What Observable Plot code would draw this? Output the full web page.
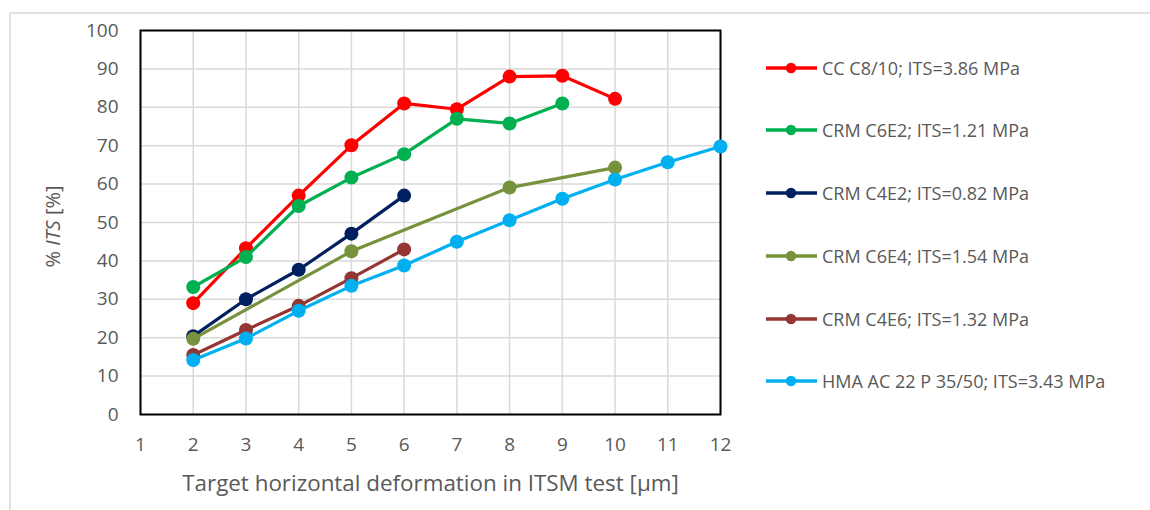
<!DOCTYPE html>
<html><head><meta charset="utf-8">
<script src="https://cdn.jsdelivr.net/npm/d3@7"></script>
<script src="https://cdn.jsdelivr.net/npm/@observablehq/plot@0.6"></script>
<style>
body{margin:0;background:#fff;font-family:"Open Sans",sans-serif;}
#wrap{position:relative;width:1150px;height:510px;overflow:hidden;background:#fff}
#frame{position:absolute;left:9px;top:12px;width:1200px;height:600px;border-top:2px solid #e2e2e2;border-left:2px solid #e2e2e2}
#chart{position:absolute;left:0;top:0}
#legend{position:absolute;left:0;top:0}
.row{position:absolute;left:766px;height:22px;display:flex;align-items:center;white-space:nowrap;font-size:18px;color:#595959}
.row svg{margin-right:4px}
</style></head><body>
<div id="wrap"><div id="frame"></div><div id="chart"></div><div id="legend"></div></div>
<script>
// Series definitions
const seriesNames = [
  "CC C8/10; ITS=3.86 MPa",
  "CRM C6E2; ITS=1.21 MPa",
  "CRM C4E2; ITS=0.82 MPa",
  "CRM C6E4; ITS=1.54 MPa",
  "CRM C4E6; ITS=1.32 MPa",
  "HMA AC 22 P 35/50; ITS=3.43 MPa"
];
const seriesColors = ["#ff0000", "#00b050", "#002060", "#76923c", "#943634", "#00b0f0"];

const xCC    = [2, 3, 4, 5, 6, 7, 8, 9, 10];
const yCC    = [29.0, 43.3, 57.0, 70.1, 81.0, 79.5, 88.0, 88.2, 82.2];
const xC6E2  = [2, 3, 4, 5, 6, 7, 8, 9];
const yC6E2  = [33.2, 41.0, 54.3, 61.7, 67.8, 77.0, 75.8, 81.0];
const xC4E2  = [2, 3, 4, 5, 6];
const yC4E2  = [20.4, 30.0, 37.7, 47.1, 57.0];
const xC6E4  = [2, 5, 8, 10];
const yC6E4  = [19.7, 42.5, 59.1, 64.3];
const xC4E6  = [2, 3, 4, 5, 6];
const yC4E6  = [15.5, 22.0, 28.3, 35.5, 43.0];
const xHMA   = [2, 3, 4, 5, 6, 7, 8, 9, 10, 11, 12];
const yHMA   = [14.2, 19.8, 27.0, 33.5, 38.8, 45.0, 50.6, 56.2, 61.2, 65.7, 69.8];

const xTicks = [1, 2, 3, 4, 5, 6, 7, 8, 9, 10, 11, 12];
const yTicks = [0, 10, 20, 30, 40, 50, 60, 70, 80, 90, 100];
const xTitle = "Target horizontal deformation in ITSM test [μm]";
const yTitle = "% ITS [%]";

const seriesX = [xCC, xC6E2, xC4E2, xC6E4, xC4E6, xHMA];
const seriesY = [yCC, yC6E2, yC4E2, yC6E4, yC4E6, yHMA];

const seriesMarks = seriesNames.flatMap((name, i) => {
  const rows = seriesX[i].map((x, j) => ({x, y: seriesY[i][j], name}));
  return [
    Plot.line(rows, {x: "x", y: "y", stroke: seriesColors[i], strokeWidth: 3.2}),
    Plot.dot(rows, {x: "x", y: "y", r: 7, fill: seriesColors[i], stroke: "none"})
  ];
});

const plot = Plot.plot({
  width: 1150, height: 510,
  marginLeft: 140, marginRight: 430, marginTop: 30, marginBottom: 96,
  style: {fontFamily: "'Open Sans', sans-serif", fontSize: "19px", color: "#595959", background: "transparent"},
  x: {domain: [1, 12], label: null},
  y: {domain: [0, 100], label: null},
  marks: [
    Plot.gridX(xTicks, {stroke: "#d9d9d9", strokeOpacity: 1, strokeWidth: 1.5}),
    Plot.gridY(yTicks, {stroke: "#d9d9d9", strokeOpacity: 1, strokeWidth: 1.5}),
    Plot.frame({stroke: "#000", strokeWidth: 2}),
    Plot.axisX(xTicks, {tickSize: 0, tickPadding: 23, fontSize: 19, fill: "#595959", tickFormat: d => String(d), label: null}),
    Plot.axisY(yTicks, {tickSize: 0, tickPadding: 22, fontSize: 19, fill: "#595959", tickFormat: d => String(d), label: null}),
    Plot.text([xTitle], {frameAnchor: "bottom", lineAnchor: "middle", textAnchor: "middle", dy: 69, fontSize: 22.4, fill: "#595959", text: d => d}),
    Plot.text([yTitle], {frameAnchor: "left", lineAnchor: "middle", textAnchor: "middle", dx: -87, dy: 4, rotate: -90, fontSize: 20, fill: "#595959", text: d => d, className: "ytitle"}),
    ...seriesMarks
  ]
});
document.getElementById("chart").appendChild(plot);

// italic "ITS" in the y-axis title
d3.select(plot).selectAll("g.ytitle text").each(function() {
  const t = d3.select(this);
  const s = t.text();
  const parts = s.split("ITS");
  t.text(null);
  t.append("tspan").text(parts[0]);
  t.append("tspan").attr("font-style", "italic").text("ITS");
  t.append("tspan").text(parts[1]);
});

// legend
const legendTop = 67.7, legendStep = 62.7;
const legend = d3.select("#legend");
seriesNames.forEach((name, i) => {
  const row = legend.append("div").attr("class", "row").style("top", (legendTop + i * legendStep - 11) + "px");
  const svg = row.append("svg").attr("width", 52).attr("height", 14);
  svg.append("line").attr("x1", 0).attr("x2", 51).attr("y1", 7).attr("y2", 7).attr("stroke", seriesColors[i]).attr("stroke-width", 3.5);
  svg.append("circle").attr("cx", 25).attr("cy", 7).attr("r", 5.2).attr("fill", seriesColors[i]);
  row.append("span").text(name);
});
</script>
</body></html>
